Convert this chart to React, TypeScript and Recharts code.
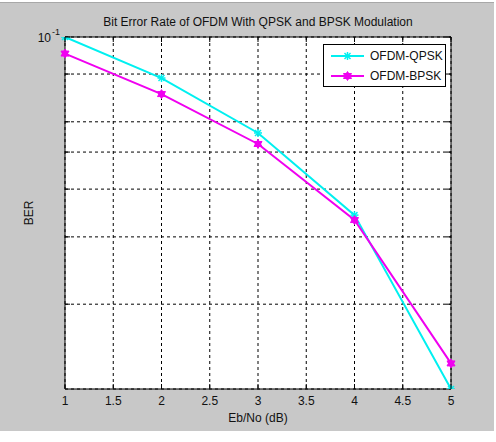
import { CartesianGrid, Legend, Line, LineChart, ReferenceLine, XAxis, YAxis } from "recharts"

const ebNo = [1, 2, 3, 4, 5]
const qpskBer = [0.1, 0.0781, 0.0561, 0.0342, 0.012]
const bpskBer = [0.0905, 0.0709, 0.0525, 0.0332, 0.014]
const xTicks = [1, 1.5, 2, 2.5, 3, 3.5, 4, 4.5, 5]
const yTicks = [0.02, 0.03, 0.04, 0.05, 0.06, 0.07, 0.08, 0.09, 0.1]

const data = ebNo.map((x, i) => ({ x, qpsk: qpskBer[i], bpsk: bpskBer[i] }))

// plot box size, used for the inward ticks on the top and right edges
const PLOT_W = 386
const PLOT_H = 352
const TICK = 5
const FONT = '"Liberation Sans", Arial, sans-serif'
const CYAN = "#00f0f0"
const MAGENTA = "#f000f0"

const XTick = ({ x, y, payload }: any) => (
  <g>
    <line x1={x} x2={x} y1={y} y2={y - TICK} stroke="#000" />
    <line x1={x} x2={x} y1={y - PLOT_H} y2={y - PLOT_H + TICK} stroke="#000" />
    <text x={x} y={y + 16} textAnchor="middle" fontSize={12} fontFamily={FONT} fill="#111">
      {payload.value}
    </text>
  </g>
)

const YTick = ({ x, y, payload }: any) => (
  <g>
    <line x1={x} x2={x + TICK} y1={y} y2={y} stroke="#000" />
    <line x1={x + PLOT_W} x2={x + PLOT_W - TICK} y1={y} y2={y} stroke="#000" />
    {payload.value === 0.1 && (
      <text x={x - 5} y={y + 5} textAnchor="end" fontSize={12} fontFamily={FONT} fill="#111">
        10
        <tspan dx={1} dy={-7} fontSize={9}>-1</tspan>
      </text>
    )}
  </g>
)

const StarDot = ({ cx, cy, index }: any) => (
  <g key={`q${index}`} stroke={CYAN} strokeWidth={1.5}>
    <line x1={cx - 4} x2={cx + 4} y1={cy} y2={cy} />
    <line x1={cx} x2={cx} y1={cy - 4} y2={cy + 4} />
    <line x1={cx - 3} x2={cx + 3} y1={cy - 3} y2={cy + 3} />
    <line x1={cx - 3} x2={cx + 3} y1={cy + 3} y2={cy - 3} />
  </g>
)

const HexDot = ({ cx, cy, index }: any) => (
  <g key={`b${index}`} fill={MAGENTA} stroke={MAGENTA} strokeWidth={1}>
    <polygon points={`${cx - 4},${cy - 2.5} ${cx + 4},${cy - 2.5} ${cx},${cy + 4.5}`} />
    <polygon points={`${cx - 4},${cy + 2.5} ${cx + 4},${cy + 2.5} ${cx},${cy - 4.5}`} />
  </g>
)

const LegendBox = () => (
  <div
    style={{
      width: 123,
      height: 43,
      boxSizing: "border-box",
      border: "1px solid #000",
      background: "#fff",
      fontFamily: FONT,
      fontSize: 12,
      color: "#111",
      paddingTop: 1,
    }}
  >
    {[
      { name: "OFDM-QPSK", color: CYAN, Dot: StarDot },
      { name: "OFDM-BPSK", color: MAGENTA, Dot: HexDot },
    ].map((item) => (
      <div key={item.name} style={{ height: 20, display: "flex", alignItems: "center" }}>
        <svg width={46} height={20} style={{ flex: "none" }}>
          <line x1={7} x2={40} y1={10} y2={10} stroke={item.color} strokeWidth={2} />
          <item.Dot cx={23.5} cy={10} index={0} />
        </svg>
        <span>{item.name}</span>
      </div>
    ))}
  </div>
)

export default function App() {
  return (
    <div style={{ position: "absolute", left: 0, top: 0, width: 496, height: 442, background: "#fff" }}>
      <div
        style={{
          position: "absolute",
          left: 0,
          top: 2,
          width: 494,
          height: 428,
          background: "#c8c8c8",
          borderTop: "1px solid #a8a8a8",
        }}
      />
      <div
        style={{
          position: "absolute",
          left: 65,
          top: 15,
          width: PLOT_W,
          textAlign: "center",
          fontFamily: FONT,
          fontSize: 12,
          lineHeight: "14px",
          color: "#111",
        }}
      >
        Bit Error Rate of OFDM With QPSK and BPSK Modulation
      </div>
      <div style={{ position: "absolute", left: 0, top: 0 }}>
        <LineChart width={496} height={442} data={data} margin={{ top: 37, right: 45, bottom: 0, left: 0 }}>
          <CartesianGrid stroke="#000" strokeDasharray="3 3" fill="#fff" />
          <XAxis
            dataKey="x"
            type="number"
            domain={[1, 5]}
            ticks={xTicks}
            height={53}
            tickLine={false}
            tickSize={0}
            tickMargin={0}
            axisLine={{ stroke: "#000" }}
            tick={<XTick />}
            label={{
              value: "Eb/No (dB)",
              position: "insideBottom",
              offset: 20,
              style: { fontFamily: FONT, fontSize: 12, fill: "#111" },
            }}
          />
          <YAxis
            type="number"
            scale="log"
            domain={[0.012, 0.1]}
            allowDataOverflow
            ticks={yTicks}
            width={65}
            tickLine={false}
            tickSize={0}
            tickMargin={0}
            axisLine={{ stroke: "#000" }}
            tick={<YTick />}
            label={{
              value: "BER",
              angle: -90,
              position: "insideLeft",
              offset: 29,
              style: { fontFamily: FONT, fontSize: 12, fill: "#111", textAnchor: "middle" },
            }}
          />
          <ReferenceLine y={0.1} stroke="#000" />
          <ReferenceLine x={5} stroke="#000" />
          <Line
            dataKey="qpsk"
            name="OFDM-QPSK"
            type="linear"
            stroke={CYAN}
            strokeWidth={2}
            dot={StarDot}
            isAnimationActive={false}
          />
          <Line
            dataKey="bpsk"
            name="OFDM-BPSK"
            type="linear"
            stroke={MAGENTA}
            strokeWidth={2}
            dot={HexDot}
            isAnimationActive={false}
          />
          <Legend
            layout="horizontal"
            verticalAlign="middle"
            align="center"
            content={<LegendBox />}
            wrapperStyle={{ top: 44, left: 323, width: 123 }}
          />
        </LineChart>
      </div>
    </div>
  )
}
